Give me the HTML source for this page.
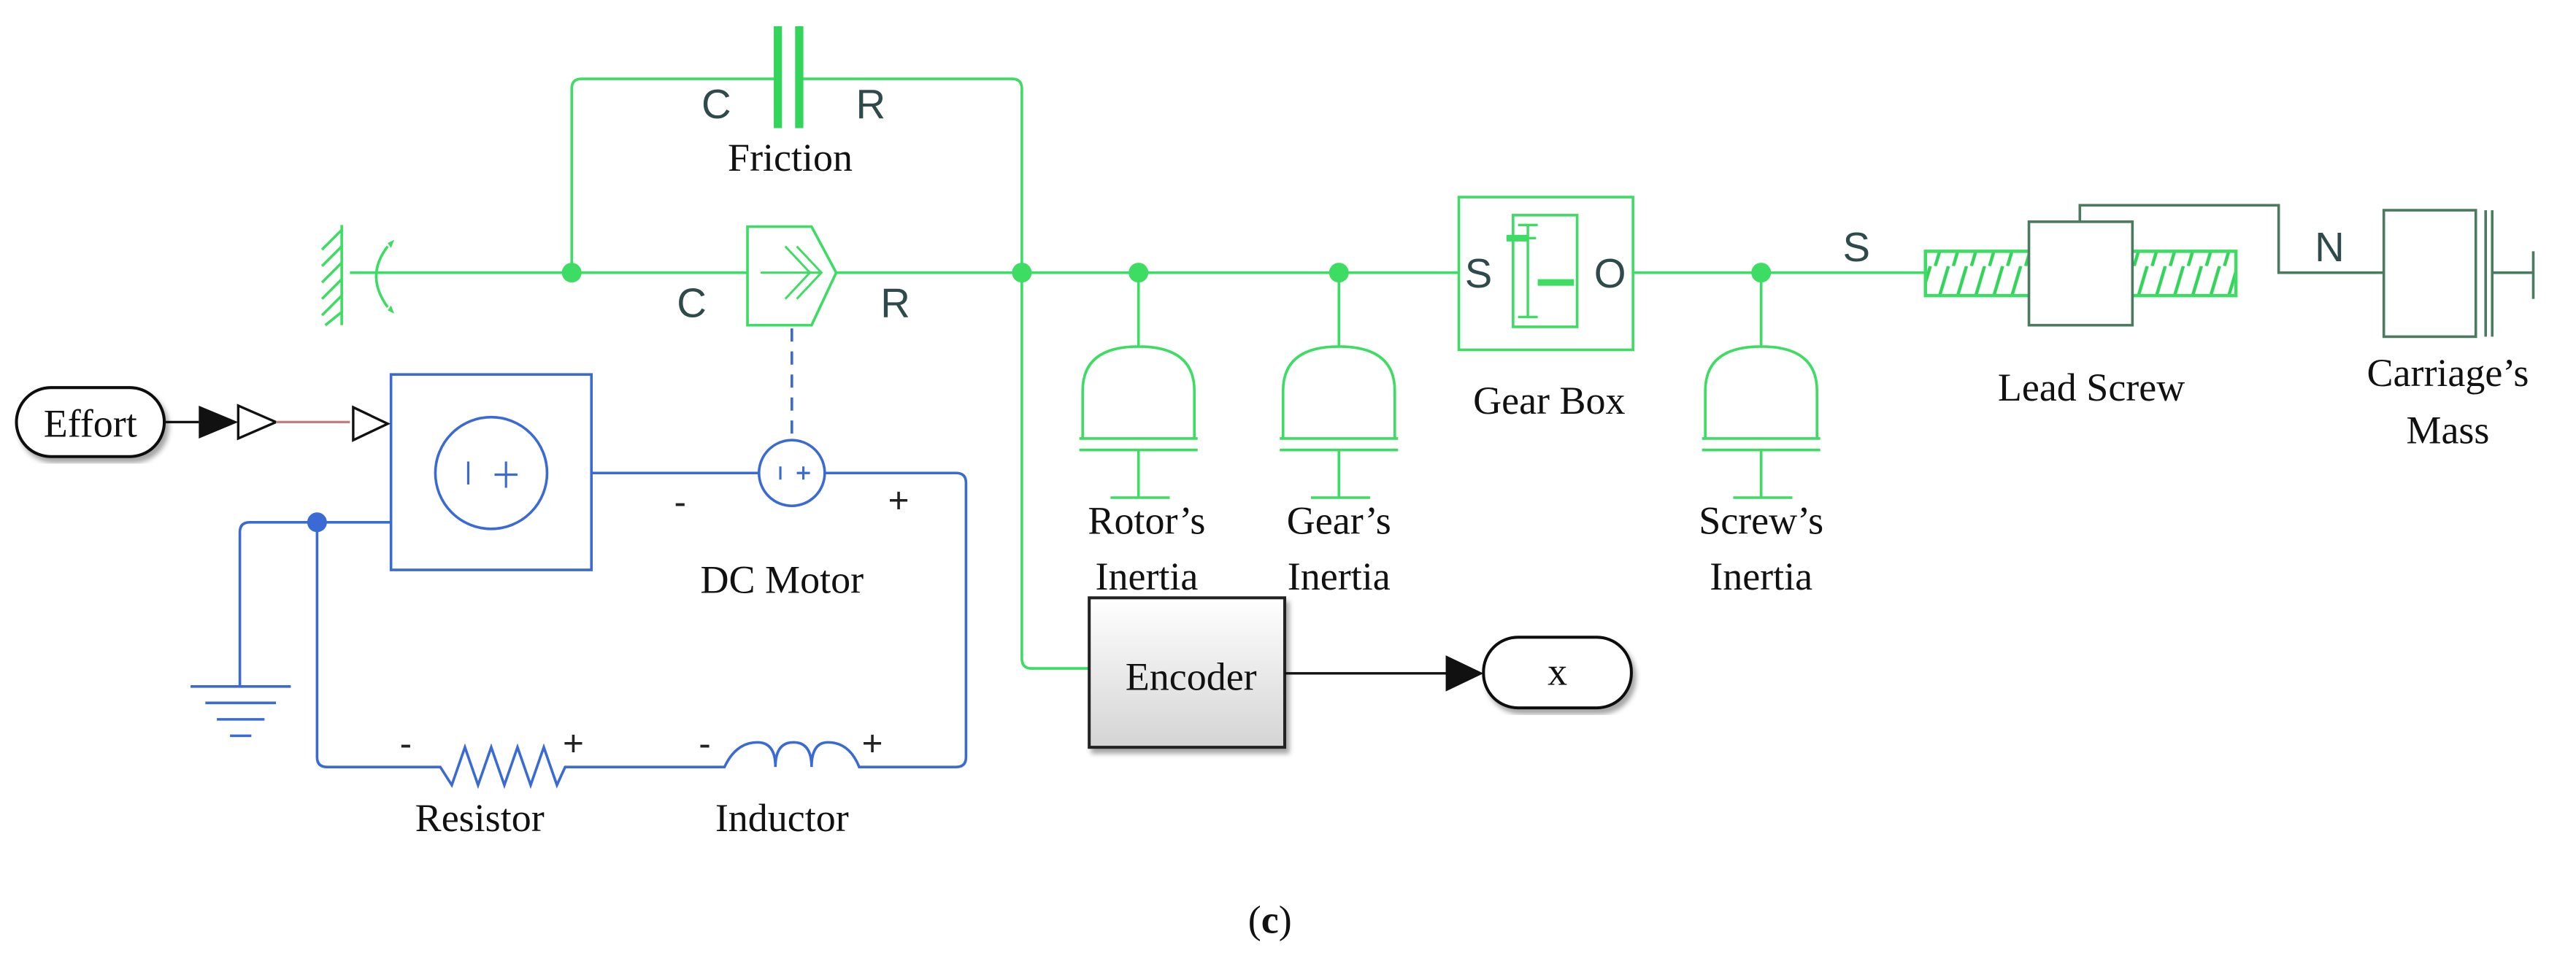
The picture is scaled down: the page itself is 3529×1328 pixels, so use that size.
<!DOCTYPE html>
<html><head><style>html,body{margin:0;padding:0;background:#fff}svg{display:block}</style></head>
<body>
<svg width="3529" height="1328" viewBox="0 0 1568 590" preserveAspectRatio="none" xmlns="http://www.w3.org/2000/svg">
<defs>
<linearGradient id="g" x1="0" y1="0" x2="0" y2="1"><stop offset="0" stop-color="#fff"/><stop offset="1" stop-color="#d4d4d4"/></linearGradient>
<pattern id="h" width="11" height="27" patternUnits="userSpaceOnUse"><path d="M1 27 L9 0" stroke="#33d45a" stroke-width="2"/></pattern>
<filter id="sh"><feDropShadow dx="2" dy="3" stdDeviation="1.5" flood-opacity="0.35"/></filter>
</defs>
<g fill="none" stroke="#3ddc63" stroke-width="1.6">
<path d="M348 166 V54 Q348 48 354 48 H474 M487 48 H616 Q622 48 622 54 V401 Q622 407 628 407 H663"/>
<path d="M213 166 H455 M509 166 H888 M994 166 H1172"/>
<path d="M208 137 V198 M208 140 L196 152 M208 150 L196 162 M208 160 L196 172 M208 170 L196 182 M208 180 L196 192 M208 190 L198 198"/>
<path d="M236 150 Q222 168 236 187"/>
<path d="M455 138 H494 L509 166 L494 198 H455 Z"/>
<path d="M463 166 H500 M485 150 L500 166 L485 182 M478 150 L493 166 L478 182" stroke-width="1.3"/>
<g id="in"><path d="M693 166 V211 M659 267 V238 Q659 211 693 211 Q727 211 727 238 V267 M657 267 H729 M657 274 H729 M693 274 V303 M676 303 H712"/></g>
<use href="#in" x="122"/>
<use href="#in" x="379"/>
<rect x="888" y="120" width="106" height="93"/>
<rect x="921" y="131" width="39" height="68"/>
<path d="M930 137 V193 M924 137 H936 M924 193 H936 M917 145 H935 M930 166 V181 M936 172 H958" stroke-width="1.5"/>
<path d="M917 145 H930 M936 172 H958" stroke-width="4"/>
<rect x="1172" y="153" width="189" height="27" fill="url(#h)" stroke-width="2"/>
</g>
<rect x="1235" y="135" width="63" height="63" fill="#fff" stroke="#4a7a5f" stroke-width="1.6"/>
<g fill="none" stroke="#4a7a5f" stroke-width="1.6">
<path d="M1266 135 V125 H1387 V166 H1451"/>
<rect x="1451" y="128" width="56" height="77"/>
<path d="M1513 128 V205 M1517 128 V205 M1517 166 H1542 M1542 153 V182"/>
</g>
<rect x="471" y="16" width="5" height="62" fill="#33d45a"/>
<rect x="484" y="16" width="5" height="62" fill="#33d45a"/>
<g fill="#3ddc63"><circle cx="348" cy="166" r="6"/><circle cx="622" cy="166" r="6"/><circle cx="693" cy="166" r="6"/><circle cx="815" cy="166" r="6"/><circle cx="1072" cy="166" r="6"/></g>
<path d="M236 148 l4 -2 -2 5z M236 189 l4 2 -2 -5z" fill="#3ddc63"/>
<g fill="none" stroke="#3a6ad4" stroke-width="1.6">
<path d="M482 200 V268" stroke-dasharray="8,6"/>
<rect x="238" y="228" width="122" height="119"/>
<circle cx="299" cy="288" r="34"/>
<circle cx="482" cy="288" r="20"/>
<path d="M360 288 H462 M502 288 H582 Q588 288 588 294 V461 Q588 467 582 467 H523 Q517 452 504 452 Q494 452 494 467 Q494 452 483 452 Q472 452 472 467 Q472 452 461 452 Q448 452 441 467 H344 L339 478 L331 455 L323 478 L315 455 L307 478 L299 455 L291 478 L283 455 L275 478 L268 467 H199 Q193 467 193 461 V318 H238 M193 318 H152 Q146 318 146 324 V418"/>
<path d="M116 418 H177 M125 428 H168 M132 438 H161 M140 448 H153"/>
<path d="M285 281 V295 M308 281 V297 M301 289 H315 M475 284 V292 M489 284 V292 M485 288 H493" stroke-width="1.4"/>
</g>
<circle cx="193" cy="318" r="6" fill="#3a6ad4"/>
<rect x="10" y="236" width="90" height="42" rx="21" fill="#fff" stroke="#111" stroke-width="1.8" filter="url(#sh)"/>
<path d="M100 257 H121" stroke="#111" stroke-width="1.5"/>
<path d="M121 247 L145 257 L121 267 Z" fill="#111"/>
<path d="M145 247 L168 257 L145 267 Z" fill="#fff" stroke="#111" stroke-width="1.5"/>
<path d="M168 257 H213" stroke="#c08080" stroke-width="1.5"/>
<path d="M215 248 L236 258 L215 268 Z" fill="#fff" stroke="#111" stroke-width="1.5"/>
<rect x="663" y="364" width="119" height="91" fill="url(#g)" stroke="#222" stroke-width="1.8" filter="url(#sh)"/>
<path d="M782 410 H882" stroke="#111" stroke-width="1.5"/>
<path d="M880 399 L903 410 L880 421 Z" fill="#111"/>
<rect x="903" y="388" width="90" height="43" rx="21" fill="#fff" stroke="#111" stroke-width="1.8" filter="url(#sh)"/>
<g font-family="Liberation Sans, sans-serif" font-size="25" fill="#2f4a4a" text-anchor="middle">
<text x="436" y="72">C</text><text x="530" y="72">R</text>
<text x="421" y="193">C</text><text x="545" y="193">R</text>
<text x="900" y="175">S</text><text x="980" y="175">O</text>
<text x="1130" y="159">S</text><text x="1418" y="159">N</text>
</g>
<g font-family="Liberation Sans, sans-serif" font-size="22" fill="#222" text-anchor="middle">
<text x="414" y="313">-</text><text x="547" y="312">+</text>
<text x="247" y="460">-</text><text x="349" y="460">+</text>
<text x="429" y="460">-</text><text x="531" y="460">+</text>
</g>
<g font-family="Liberation Serif, serif" font-size="24" fill="#111" text-anchor="middle">
<text x="481" y="104">Friction</text>
<text x="55" y="266">Effort</text>
<text x="476" y="361">DC Motor</text>
<text x="292" y="506">Resistor</text>
<text x="476" y="506">Inductor</text>
<text x="698" y="325">Rotor’s</text><text x="698" y="359">Inertia</text>
<text x="815" y="325">Gear’s</text><text x="815" y="359">Inertia</text>
<text x="1072" y="325">Screw’s</text><text x="1072" y="359">Inertia</text>
<text x="943" y="252">Gear Box</text>
<text x="1273" y="244">Lead Screw</text>
<text x="1490" y="235">Carriage’s</text><text x="1490" y="270">Mass</text>
<text x="725" y="420">Encoder</text>
<text x="948" y="417">x</text>
<text x="773" y="568">(<tspan font-weight="bold">c</tspan>)</text>
</g>
</svg>
</body></html>
